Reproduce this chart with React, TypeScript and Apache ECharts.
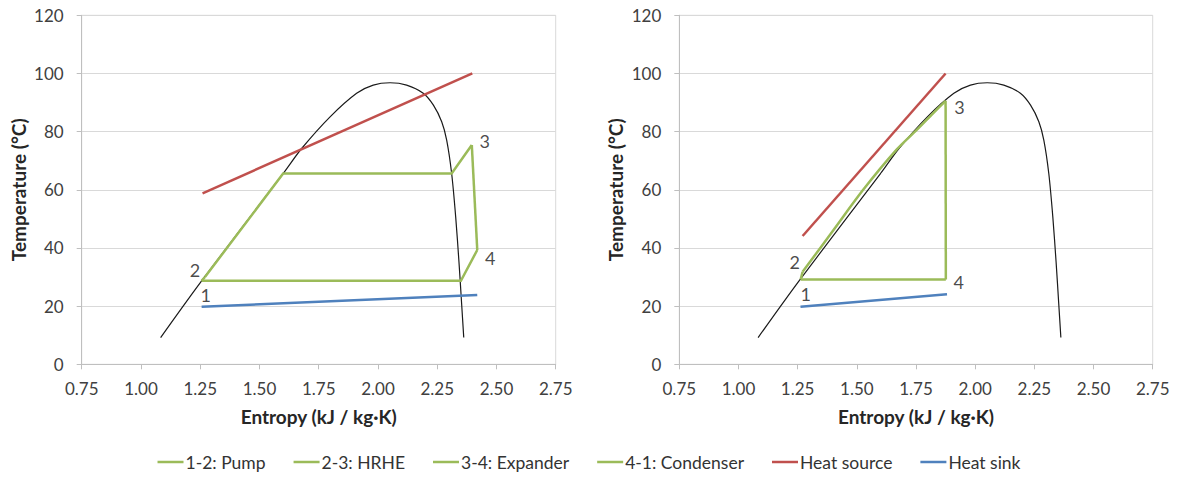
import React, { useEffect, useRef } from "react";
import * as echarts from "echarts";

// ---------- Data (entropy kJ/kg·K, temperature °C) ----------
const xTickMin = 0.75;
const xTickMax = 2.75;
const xTickStep = 0.25;
const yTickMin = 0;
const yTickMax = 120;
const yTickStep = 20;

// Saturation dome (same fluid in both charts)
const domeEntropy = [1.083, 1.256, 1.6, 1.678, 1.798, 1.91, 1.98, 2.051, 2.121, 2.191, 2.234, 2.269, 2.29, 2.311, 2.328, 2.342, 2.353, 2.362];
const domeTemp = [9.2, 28.7, 65.6, 74.2, 85.1, 93.2, 96.0, 96.8, 96.0, 93.2, 89.1, 83.4, 77.1, 65.6, 50.7, 35.0, 20.9, 9.2];

// Left chart
const leftPump = [[1.256, 28.7], [1.27, 30.0]];
const leftHRHE = [[1.27, 30.0], [1.6, 65.6], [2.311, 65.6], [2.396, 75.4]];
const leftExpander = [[2.396, 75.4], [2.419, 39.3]];
const leftCondenser = [[2.419, 39.3], [2.35, 28.7], [1.256, 28.7]];
const leftHeatSource = [[1.26, 58.8], [2.398, 100]];
const leftHeatSink = [[1.256, 19.8], [2.419, 23.8]];
const leftStatePoints = [[1.256, 28.7], [1.27, 30.0], [2.396, 75.4], [2.419, 39.3]];

// Right chart
const rightPump = [[1.263, 29.2], [1.271, 31.8]];
const rightHRHE = [[1.271, 31.8], [1.4, 46.0], [1.526, 59.9], [1.667, 73.7], [1.752, 80.5], [1.822, 86.3], [1.875, 90.6]];
const rightExpander = [[1.875, 90.6], [1.876, 29.2]];
const rightCondenser = [[1.876, 29.2], [1.263, 29.2]];
const rightHeatSource = [[1.271, 44.1], [1.875, 100]];
const rightHeatSink = [[1.262, 19.8], [1.881, 24.1]];
const rightStatePoints = [[1.263, 29.2], [1.271, 31.8], [1.875, 90.6], [1.876, 29.2]];

const stateNames = ["1", "2", "3", "4"];
const seriesNames = ["1-2: Pump", "2-3: HRHE", "3-4: Expander", "4-1: Condenser", "Heat source", "Heat sink"];

// ---------- Styles ----------
const FONT = 'Lato, "Open Sans", "Liberation Sans", sans-serif';
const GREEN = "#9BBB59";
const RED = "#C0504D";
const BLUE = "#4F81BD";
const leftLabelOffsets = [[4, 14], [-10, -7], [13, -4], [13, 8]];
const rightLabelOffsets = [[5, 15], [-8, -10], [14, 6], [13, 3]];

function lineSeries(name: string, data: number[][], color: string, idx: number, width = 2.5, smooth: number | boolean = false) {
  return {
    name,
    type: "line",
    xAxisIndex: idx,
    yAxisIndex: idx,
    data,
    showSymbol: false,
    symbol: "none",
    smooth,
    lineStyle: { color, width, cap: "butt", join: "miter" },
    itemStyle: { color },
    emphasis: { disabled: true },
    z: 3,
  };
}

function stateSeries(points: number[][], offsets: number[][], idx: number) {
  return {
    name: "State points",
    type: "scatter",
    xAxisIndex: idx,
    yAxisIndex: idx,
    symbolSize: 1,
    itemStyle: { color: "rgba(0,0,0,0)" },
    emphasis: { disabled: true },
    data: points.map((p, i) => ({
      value: p,
      name: stateNames[i],
      label: { offset: offsets[i] },
    })),
    label: {
      show: true,
      position: "inside",
      formatter: (p: any) => p.name,
      fontSize: 18,
      fontFamily: FONT,
      color: "#1a1a1a",
    },
    z: 5,
  };
}

function chartSeries(idx: number, d: any) {
  return [
    {
      name: "Saturation dome",
      type: "line",
      xAxisIndex: idx,
      yAxisIndex: idx,
      data: domeEntropy.map((s, i) => [s, domeTemp[i]]),
      showSymbol: false,
      symbol: "none",
      smooth: 0.3,
      lineStyle: { color: "#1a1a1a", width: 1.2 },
      itemStyle: { color: "#1a1a1a" },
      emphasis: { disabled: true },
      z: 2,
    },
    lineSeries(seriesNames[0], d.pump, GREEN, idx),
    lineSeries(seriesNames[1], d.hrhe, GREEN, idx, 2.5, idx === 1 ? 0.3 : false),
    lineSeries(seriesNames[2], d.expander, GREEN, idx),
    lineSeries(seriesNames[3], d.condenser, GREEN, idx),
    lineSeries(seriesNames[4], d.source, RED, idx),
    lineSeries(seriesNames[5], d.sink, BLUE, idx),
    stateSeries(d.states, d.offsets, idx),
  ];
}

function xAxisCfg(idx: number) {
  return {
    type: "value",
    gridIndex: idx,
    min: xTickMin,
    max: xTickMax,
    interval: xTickStep,
    name: "Entropy (kJ / kg·K)",
    nameLocation: "middle",
    nameGap: 43,
    nameTextStyle: { fontFamily: FONT, fontWeight: "bold", fontSize: 19, color: "#262626" },
    axisLine: { show: true, onZero: false, lineStyle: { color: "#bfbfbf", width: 1 } },
    axisTick: { show: true, length: 5, lineStyle: { color: "#bfbfbf" } },
    axisLabel: {
      formatter: (v: number) => v.toFixed(2),
      fontFamily: FONT,
      fontSize: 17,
      color: "#404040",
      margin: 16,
    },
    splitLine: { show: false },
  };
}

function yAxisCfg(idx: number) {
  return {
    type: "value",
    gridIndex: idx,
    min: yTickMin,
    max: yTickMax,
    interval: yTickStep,
    name: "Temperature (°C)",
    nameLocation: "middle",
    nameGap: 54,
    nameTextStyle: { fontFamily: FONT, fontWeight: "bold", fontSize: 19, color: "#262626" },
    axisLine: { show: true, lineStyle: { color: "#bfbfbf", width: 1 } },
    axisTick: { show: true, length: 5, lineStyle: { color: "#bfbfbf" } },
    axisLabel: { fontFamily: FONT, fontSize: 17, color: "#404040", margin: 18 },
    splitLine: { show: true, lineStyle: { color: "#d9d9d9", width: 1 } },
  };
}

export default function App() {
  const ref = useRef<HTMLDivElement>(null);
  useEffect(() => {
    if (!ref.current) return;
    const chart = echarts.init(ref.current, null, { renderer: "svg" });
    const option: any = {
      animation: false,
      backgroundColor: "#ffffff",
      textStyle: { fontFamily: FONT },
      grid: [
        { left: 81.7, top: 15.3, width: 474, height: 349, show: true, borderColor: "#d9d9d9", borderWidth: 1, backgroundColor: "transparent" },
        { left: 679.3, top: 15.3, width: 473.4, height: 349, show: true, borderColor: "#d9d9d9", borderWidth: 1, backgroundColor: "transparent" },
      ],
      xAxis: [xAxisCfg(0), xAxisCfg(1)],
      yAxis: [yAxisCfg(0), yAxisCfg(1)],
      legend: {
        data: seriesNames,
        left: "center",
        top: 453,
        padding: 0,
        icon: "rect",
        itemWidth: 26,
        itemHeight: 2.5,
        itemGap: 28,
        selectedMode: false,
        textStyle: { fontFamily: FONT, fontSize: 17.5, lineHeight: 18, color: "#333", padding: [0, 0, 0, -3] },
      },
      series: [
        ...chartSeries(0, {
          pump: leftPump,
          hrhe: leftHRHE,
          expander: leftExpander,
          condenser: leftCondenser,
          source: leftHeatSource,
          sink: leftHeatSink,
          states: leftStatePoints,
          offsets: leftLabelOffsets,
        }),
        ...chartSeries(1, {
          pump: rightPump,
          hrhe: rightHRHE,
          expander: rightExpander,
          condenser: rightCondenser,
          source: rightHeatSource,
          sink: rightHeatSink,
          states: rightStatePoints,
          offsets: rightLabelOffsets,
        }),
      ],
    };
    chart.setOption(option);
    return () => chart.dispose();
  }, []);
  return (
    <div
      ref={ref}
      style={{ position: "fixed", left: 0, top: 0, width: 1178, height: 477, background: "#fff" }}
    />
  );
}
